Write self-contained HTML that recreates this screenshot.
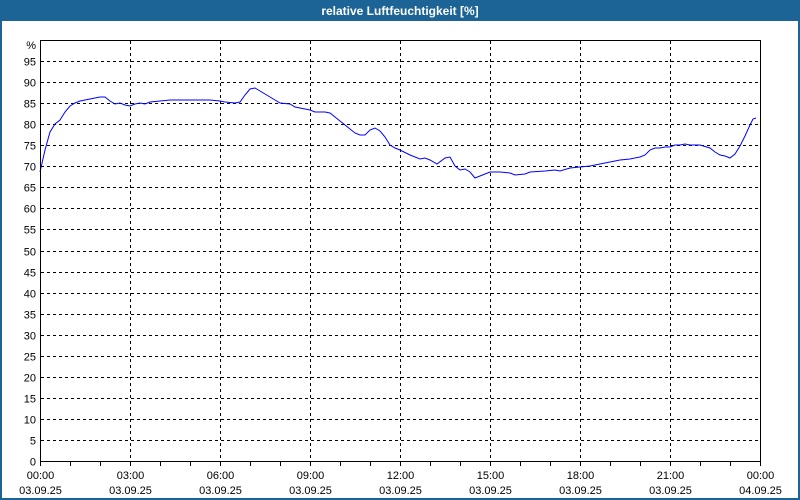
<!DOCTYPE html>
<html><head><meta charset="utf-8"><style>
html,body{margin:0;padding:0;background:#fff}
svg{display:block}
text{font-family:"Liberation Sans",sans-serif;font-size:11px;fill:#000}
</style></head><body>
<svg width="800" height="500" xmlns="http://www.w3.org/2000/svg">
<rect x="0" y="0" width="800" height="500" fill="#fff"/>
<rect x="0" y="0" width="800" height="21" fill="#1c6496"/>
<rect x="0" y="0" width="2" height="500" fill="#1c6496"/>
<rect x="798" y="0" width="2" height="500" fill="#1c6496"/>
<rect x="0" y="498" width="800" height="2" fill="#1c6496"/>
<text x="400" y="15" text-anchor="middle" style="fill:#fff;font-weight:bold;font-size:12px">relative Luftfeuchtigkeit [%]</text>
<g stroke="#000" stroke-width="1" stroke-dasharray="3,3" fill="none" id="grid"></g>
<g id="g"></g>
<polyline fill="none" stroke="#00f" stroke-width="1" points="40,172 45,150 50,132 55,124 60,120 65,112 70,106 75,103 80,101 90,99 100,97 105,97 110,101 115,104 120,103 125,105 130,106 135,104 140,103 145,104 150,102 160,101 170,100 190,100 200,100 210,100 220,101 225,102 235,103 240,102 245,95 250,89 255,88 260,91 265,94 270,97 275,100 280,103 290,104 295,107 305,109 310,110 315,112 320,112 325,112 330,113 335,117 340,121 345,125 350,129 355,133 360,135 365,135 370,130 375,128 380,131 385,137 390,145 395,148 400,150 410,155 420,159 425,158 430,160 437,164 445,158 450,157 455,166 460,170 465,169 470,172 475,178 480,176 490,172 500,172 510,173 515,175 525,174 530,172 545,171 555,170 560,171 570,168 580,167 590,166 600,164 610,162 620,160 630,159 640,157 645,155 650,150 655,148 660,148 665,147 670,147 675,145 680,145 685,144 690,145 700,145 710,148 715,152 720,155 725,156 730,158 735,154 740,146 745,136 750,125 753,119 756,118"/>
<rect x="40.5" y="40.5" width="720" height="421" fill="none" stroke="#000"/>
<text x="36" y="49" text-anchor="end">%</text>
<script>
var ns="http://www.w3.org/2000/svg",g=document.getElementById("g"),gr=document.getElementById("grid");
function el(t,a,p,txt){var e=document.createElementNS(ns,t);for(var k in a)e.setAttribute(k,a[k]);if(txt!==undefined)e.textContent=txt;(p||g).appendChild(e);return e;}
for(var v=0;v<=95;v+=5){var y=Math.round(461-v*4.21)+0.5;
 if(v>0)el("line",{x1:41,x2:760,y1:y,y2:y},gr);
 el("text",{x:36,y:y+4,"text-anchor":"end"},g,String(v));}
var labs=["00:00","03:00","06:00","09:00","12:00","15:00","18:00","21:00","00:00"];
for(var h=0;h<=24;h++){var x=40+h*30+0.5;
 el("line",{x1:x,x2:x,y1:461,y2:466,stroke:"#000"});
 if(h%3==0){var i=h/3;
  if(h>0&&h<24)el("line",{x1:x,x2:x,y1:41,y2:461},gr);
  el("text",{x:x,y:479,"text-anchor":"middle"},g,labs[i]);
  el("text",{x:x,y:494,"text-anchor":"middle"},g,h==24?"04.09.25":"03.09.25");}}
</script>
</svg>
</body></html>
